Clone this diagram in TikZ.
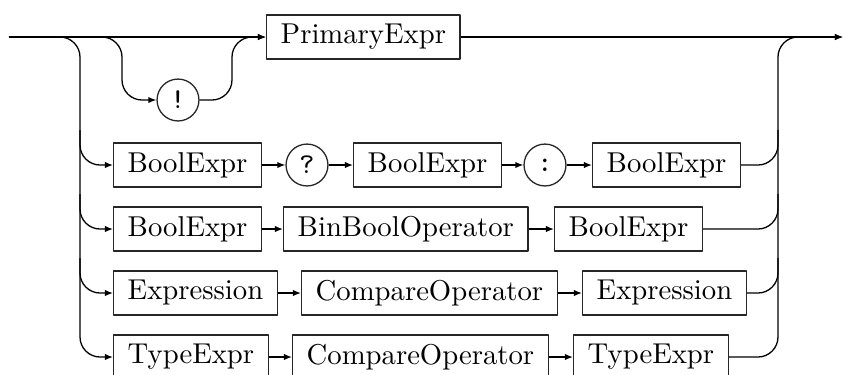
\documentclass[tikz,border=0pt]{standalone}
\usetikzlibrary{arrows.meta}
\begin{document}
\begin{tikzpicture}[x=0.3484pt,y=-0.3484pt,
  line width=0.45pt,
  every path/.style={line join=round},
  nt/.style={draw=black!85,rectangle,inner xsep=4.9pt,inner ysep=0pt,minimum height=15.3pt,anchor=west,font=\rmfamily},
  tm/.style={draw=black!85,circle,inner sep=0pt,minimum size=14.6pt,font=\ttfamily},
  arr/.style={-{Latex[length=2.8pt,width=2.2pt]}},
  rc/.style={rounded corners=7pt}]
\useasboundingbox (0,0) rectangle (843,374);
% nodes
\coordinate (start) at (9,37);
\coordinate (fin) at (843,37);
\node[nt] (prim) at (266,37) {PrimaryExpr};
\node[tm] (bang) at (178,100) {!};
% row 2
\node[nt] (r2a) at (113,165) {BoolExpr};
\node[tm] (q) at (307,165) {?};
\node[nt] (r2b) at (353,165) {BoolExpr};
\node[tm] (col) at (545,165) {:};
\node[nt] (r2c) at (592,165) {BoolExpr};
% row 3
\node[nt] (r3a) at (113,229) {BoolExpr};
\node[nt] (r3b) at (283,229) {BinBoolOperator};
\node[nt] (r3c) at (554,229) {BoolExpr};
% row 4
\node[nt] (r4a) at (113,293) {Expression};
\node[nt] (r4b) at (301,293) {CompareOperator};
\node[nt] (r4c) at (582,293) {Expression};
% row 5
\node[nt] (r5a) at (113,357) {TypeExpr};
\node[nt] (r5b) at (292,357) {CompareOperator};
\node[nt] (r5c) at (573,357) {TypeExpr};
% main line
\draw[arr] (start) -- (prim.west);
\draw[arr] (prim.east) -- (fin);
% bypass with !
\draw[arr,rc] (100,37) -- (122,37) -- (122,100) -- (bang.west);
\draw[arr,rc] (bang.east) -- (232,100) -- (232,37) -- (prim.west);
% left trunk
\draw[arr,rc] (start) -- (80,37) -- (80,357) -- (r5a.west);
\draw[arr,rc] (80,130) -- (80,165) -- (r2a.west);
\draw[arr,rc] (80,194) -- (80,229) -- (r3a.west);
\draw[arr,rc] (80,258) -- (80,293) -- (r4a.west);
% right trunk
\draw[arr,rc] (r5c.east) -- (778,357) -- (778,37) -- (fin);
\draw[rc] (r2c.east) -- (778,165) -- (778,130);
\draw[rc] (r3c.east) -- (778,229) -- (778,194);
\draw[rc] (r4c.east) -- (778,293) -- (778,258);
% row arrows
\draw[arr] (r2a.east) -- (q.west);
\draw[arr] (q.east) -- (r2b.west);
\draw[arr] (r2b.east) -- (col.west);
\draw[arr] (col.east) -- (r2c.west);
\draw[arr] (r3a.east) -- (r3b.west);
\draw[arr] (r3b.east) -- (r3c.west);
\draw[arr] (r4a.east) -- (r4b.west);
\draw[arr] (r4b.east) -- (r4c.west);
\draw[arr] (r5a.east) -- (r5b.west);
\draw[arr] (r5b.east) -- (r5c.west);
\end{tikzpicture}
\end{document}
